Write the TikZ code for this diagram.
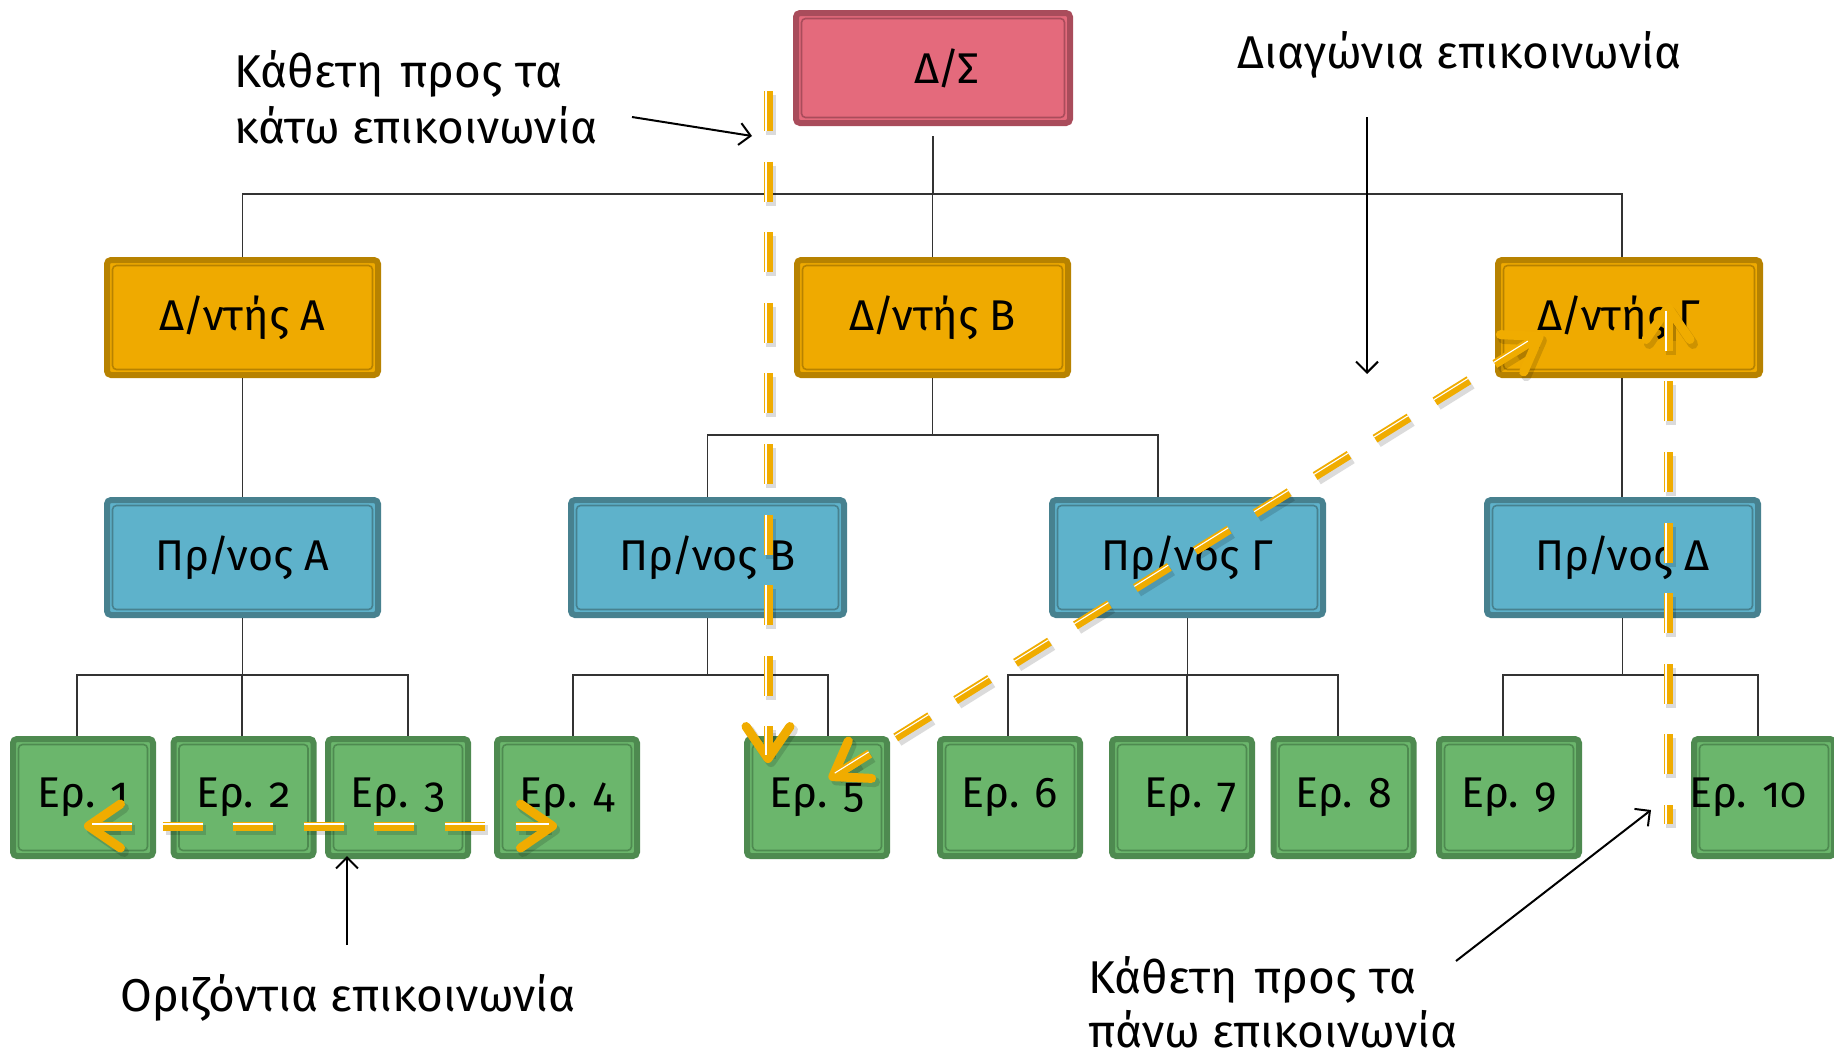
\documentclass[tikz,border=0pt]{standalone}
\usepackage{fontspec}
\setmainfont{Fira Sans}[Numbers=OldStyle]
\usetikzlibrary{arrows.meta,calc}
\definecolor{pinkF}{HTML}{E46A7C}
\definecolor{pinkD}{HTML}{A94C5B}
\definecolor{oraF}{HTML}{EFAA00}
\definecolor{oraD}{HTML}{B78200}
\definecolor{bluF}{HTML}{5EB2CB}
\definecolor{bluD}{HTML}{47818F}
\definecolor{grnF}{HTML}{6BB66C}
\definecolor{grnD}{HTML}{4E8A50}
\definecolor{arrO}{HTML}{F0AC00}
\definecolor{treeC}{HTML}{333333}
\newcommand\slsh{\kern-2pt/\kern-2pt}
\begin{document}
\begin{tikzpicture}[x=1pt,y=-1pt,
  boxbase/.style={rectangle, rounded corners=4pt, line width=6pt, inner sep=0pt, text=black, font=\fontsize{43}{50}\selectfont},
  inset/.style={path picture={\draw[#1, line width=1.6pt] ([shift={(5.5pt,5.5pt)}]path picture bounding box.south west) rectangle ([shift={(-5.5pt,-5.5pt)}]path picture bounding box.north east);}},
  pinkbox/.style={boxbase, fill=pinkF, draw=pinkD, inset=pinkD},
  orabox/.style={boxbase, fill=oraF, draw=oraD, inset=oraD, minimum width=271pt, minimum height=115pt},
  blubox/.style={boxbase, fill=bluF, draw=bluD, inset=bluD, minimum width=271pt, minimum height=115pt},
  grnbox/.style={boxbase, fill=grnF, draw=grnD, inset=grnD, minimum width=140pt, minimum height=117pt},
  tree/.style={draw=treeC, line width=1.5pt},
  note/.style={font=\fontsize{46}{56}\selectfont, inner sep=0pt, align=left},
  noteArrow/.style={draw=black, line width=2pt, -{Straight Barb[length=11pt,width=22pt]}},
  oshaft/.style={draw=arrO, line width=9pt, dash pattern=on 40pt off 30.6pt},
  oshadow/.style={draw=black, opacity=0.14, line width=10pt, dash pattern=on 40pt off 30.6pt},
  ostripe/.style={draw=white, line width=1.1pt, dash pattern=on 40pt off 30.6pt},
  ohead/.style={draw=arrO, line width=9pt, -{Straight Barb[round,length=32pt,width=44pt]}},
  oheadshadow/.style={draw=black, opacity=0.14, line width=10pt, -{Straight Barb[round,length=32pt,width=44pt]}},
]
\useasboundingbox (0,0) rectangle (1834,1061);

% boxes
\node[pinkbox, minimum width=274pt, minimum height=110pt] (DS) at (933,68) {\hspace*{28pt}Δ\slsh Σ};
\node[orabox] (DA) at (242.5,317.5) {Δ\slsh ντής Α};
\node[orabox] (DB) at (932.5,317.5) {Δ\slsh ντής Β};
\node[orabox, minimum width=262pt] (DG) at (1629,317.5) {\hspace*{-20pt}Δ\slsh ντής Γ};
\node[blubox] (PA) at (242.5,557.5) {Πρ\slsh νος Α};
\node[blubox, minimum width=273pt] (PB) at (707.5,557.5) {Πρ\slsh νος Β};
\node[blubox] (PG) at (1187.5,557.5) {Πρ\slsh νος Γ};
\node[blubox] (PD) at (1622.5,557.5) {Πρ\slsh νος Δ};
\node[grnbox] (E1) at (83,797.5) {Ερ. 1};
\node[grnbox] (E2) at (243.5,797.5) {Ερ. 2};
\node[grnbox] (E3) at (398,797.5) {Ερ. 3};
\node[grnbox] (E4) at (567,797.5) {Ερ. 4};
\node[grnbox] (E5) at (817,797.5) {Ερ. 5};
\node[grnbox] (E6) at (1010,797.5) {Ερ. 6};
\node[grnbox] (E7) at (1182,797.5) {\hspace*{18pt}Ερ. 7};
\node[grnbox] (E8) at (1343.5,797.5) {Ερ. 8};
\node[grnbox] (E9) at (1509,797.5) {Ερ. 9};
\node[grnbox] (E10) at (1764,797.5) {\hspace*{-32pt}Ερ. 10};

% tree connectors
\coordinate (j1) at (932,194);
\coordinate (j2) at (0,435);
\coordinate (j3) at (0,675);
\draw[tree] ([yshift=-10pt]DS.south) -- (DS.south |- j1);
\draw[tree] (DA.north) -- (DA.north |- j1) -- ([xshift=-7pt]DG.north |- j1) -- ([xshift=-7pt]DG.north);
\draw[tree] (DB.north) -- (DB.north |- j1);
\draw[tree] (DA.south) -- (PA.north);
\draw[tree] (DB.south) -- (DB.south |- j2);
\draw[tree] (PB.north) -- (PB.north |- j2) -- ([xshift=-29.5pt]PG.north |- j2) -- ([xshift=-29.5pt]PG.north);
\draw[tree] ([xshift=-7pt]DG.south) -- ([xshift=-7pt]DG.south |- PD.north);
\draw[tree] (PA.south) -- (PA.south |- j3);
\draw[tree] ([xshift=-6pt]E1.north) -- ([xshift=-6pt]E1.north |- j3) -- ([xshift=10pt]E3.north |- j3) -- ([xshift=10pt]E3.north);
\draw[tree] ([xshift=-1.5pt]E2.north) -- ([xshift=-1.5pt]E2.north |- j3);
\draw[tree] (PB.south) -- (PB.south |- j3);
\draw[tree] ([xshift=6pt]E4.north) -- ([xshift=6pt]E4.north |- j3) -- ([xshift=11pt]E5.north |- j3) -- ([xshift=11pt]E5.north);
\draw[tree] (PG.south) -- (PG.south |- j3);
\draw[tree] ([xshift=-2pt]E6.north) -- ([xshift=-2pt]E6.north |- j3) -- ([xshift=-5.5pt]E8.north |- j3) -- ([xshift=-5.5pt]E8.north);
\draw[tree] ([xshift=5pt]E7.north) -- ([xshift=5pt]E7.north |- j3);
\draw[tree] (PD.south) -- (PD.south |- j3);
\draw[tree] ([xshift=-6pt]E9.north) -- ([xshift=-6pt]E9.north |- j3) -- ([xshift=-6pt]E10.north |- j3) -- ([xshift=-6pt]E10.north);

% labels
\node[note, anchor=north west] (L1) at (234,50) {Κάθετη\hspace{5pt} προς τα\\κάτω επικοινωνία};
\node[note, anchor=west] (L2) at (1237,55) {Διαγώνια επικοινωνία};
\node[note, anchor=west] (L3) at (120,998) {Οριζόντια επικοινωνία};
\node[note, anchor=north west, font=\fontsize{46}{54}\selectfont] (L4) at (1088,956) {Κάθετη\hspace{5pt} προς τα\\πάνω επικοινωνία};

% annotation arrows
\coordinate (k1s) at (632,117); \coordinate (k1e) at (752,136);
\coordinate (k2s) at (1367,117); \coordinate (k2e) at (1367,374);
\coordinate (k3s) at (347,945); \coordinate (k3e) at (347,856);
\coordinate (k4s) at (1456,961); \coordinate (k4e) at (1651,810);
\draw[noteArrow] (k1s) -- (k1e);
\draw[noteArrow] (k2s) -- (k2e);
\draw[noteArrow] (k3s) -- (k3e);
\draw[noteArrow] (k4s) -- (k4e);

% orange communication arrows: tips and shaft ends
\coordinate (hA) at (84,826); \coordinate (hB) at (557,826);
\coordinate (hs) at (92,826); \coordinate (he) at (549,826);
\coordinate (vT) at (768,763); \coordinate (vs) at (768,91); \coordinate (ve) at (768,755);
\coordinate (uT) at (1668,303); \coordinate (us) at (1668,824); \coordinate (ue) at (1668,311);
\coordinate (dA) at (829,779); \coordinate (dB) at (1543,334);
\coordinate (ds) at ($(dA)!8pt!(dB)$); \coordinate (de) at ($(dB)!8pt!(dA)$);

\begin{scope}[transform canvas={shift={(3pt,-4pt)}}]
  \draw[oshadow] (hs) -- (he);
  \draw[oshadow] (vs) -- (ve);
  \draw[oshadow, dash phase=21pt] (us) -- (ue);
  \draw[oshadow] (ds) -- (de);
  \draw[oheadshadow] ($(hA)!34pt!(hB)$) -- (hA);
  \draw[oheadshadow] ($(hB)!34pt!(hA)$) -- (hB);
  \draw[oheadshadow] ($(vT)!34pt!(vs)$) -- (vT);
  \draw[oheadshadow] ($(uT)!34pt!(us)$) -- (uT);
  \draw[oheadshadow] ($(dA)!34pt!(dB)$) -- (dA);
  \draw[oheadshadow] ($(dB)!34pt!(dA)$) -- (dB);
\end{scope}

\draw[oshaft] (hs) -- (he);
\draw[oshaft] (vs) -- (ve);
\draw[oshaft, dash phase=21pt] (us) -- (ue);
\draw[oshaft] (ds) -- (de);
\draw[ohead] ($(hA)!34pt!(hB)$) -- (hA);
\draw[ohead] ($(hB)!34pt!(hA)$) -- (hB);
\draw[ohead] ($(vT)!34pt!(vs)$) -- (vT);
\draw[ohead] ($(uT)!34pt!(us)$) -- (uT);
\draw[ohead] ($(dA)!34pt!(dB)$) -- (dA);
\draw[ohead] ($(dB)!34pt!(dA)$) -- (dB);

\begin{scope}[transform canvas={shift={(0pt,2pt)}}]
  \draw[ostripe] (hs) -- (he);
\end{scope}
\begin{scope}[transform canvas={shift={(-2pt,0pt)}}]
  \draw[ostripe] (vs) -- (ve);
  \draw[ostripe, dash phase=21pt] (us) -- (ue);
\end{scope}
\begin{scope}[transform canvas={shift={(-1.06pt,1.7pt)}}]
  \draw[ostripe] (ds) -- (de);
\end{scope}
\end{tikzpicture}
\end{document}
